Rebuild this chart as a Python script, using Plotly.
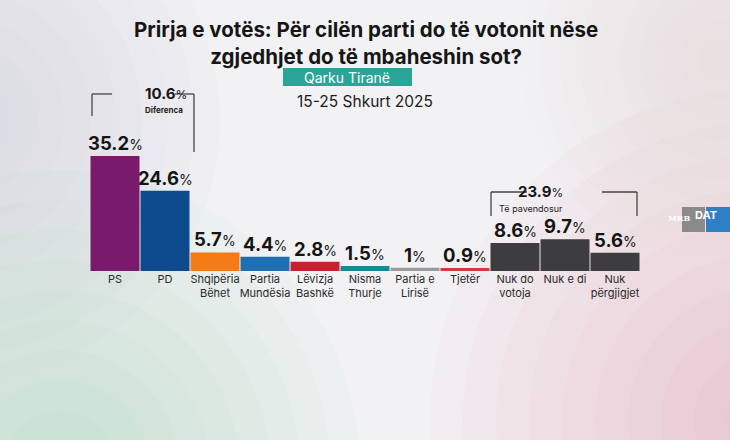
import plotly.graph_objects as go

categories = ["PS", "PD", "Shqipëria<br>Bëhet", "Partia<br>Mundësia", "Lëvizja<br>Bashkë",
              "Nisma<br>Thurje", "Partia e<br>Lirisë", "Tjetër", "Nuk do<br>votoja", "Nuk e di",
              "Nuk<br>përgjigjet"]
values = [35.2, 24.6, 5.7, 4.4, 2.8, 1.5, 1.0, 0.9, 8.6, 9.7, 5.6]
value_labels = ["35.2", "24.6", "5.7", "4.4", "2.8", "1.5", "1", "0.9", "8.6", "9.7", "5.6"]
colors = ["#7a1a6c", "#0e4a8e", "#f47b16", "#1f6eb1", "#c9202f", "#158a95",
          "#9a9a9a", "#d8383d", "#3d3d3f", "#3d3d3f", "#3d3d3f"]
diff_value = "10.6"
undecided_value = "23.9"

W, H = 730, 440
L, R, T, B = 90, 90, 124, 169
PW, PH = W - L - R, H - T - B

def px(x):
    return (x - L) / PW

def py(y):
    return (H - B - y) / PH

FONT = "Inter"
fig = go.Figure()
fig.add_trace(go.Bar(x=list(range(len(categories))), y=values, marker=dict(color=colors, line=dict(width=0)),
                     hoverinfo="skip"))

ann = []
for i, (v, lab) in enumerate(zip(values, value_labels)):
    ann.append(dict(x=i, y=v, xref="x", yref="y", yanchor="bottom", yshift=0, showarrow=False,
                    text=f"<b>{lab}</b><span style='font-size:14px'>%</span>",
                    font=dict(family=FONT, size=18.5, color="#151515")))

def note(x, y, text, size, color="#161616", yanchor="middle", family=FONT):
    ann.append(dict(x=px(x), y=py(y), xref="paper", yref="paper", showarrow=False, yanchor=yanchor,
                    text=text, font=dict(family=family, size=size, color=color)))

note(366, 43, "<b>Prirja e votës: Për cilën parti do të votonit nëse<br>zgjedhjet do të mbaheshin sot?</b>", 20.5)
note(347, 77, "Qarku Tiranë", 14, "white")
note(365, 101, "15-25 Shkurt 2025", 15.5, "#1c1c1c")
note(143, 104.5, f"<b>{diff_value}</b><span style='font-size:12px'>%</span>", 15, yanchor="bottom")
note(143, 102.5, "<b>Diferenca</b>", 8, "#222", yanchor="top")
note(565, 203, f"<b>{undecided_value}</b><span style='font-size:12px'>%</span>", 15, yanchor="bottom")
note(565, 200.5, "Të pavendosur", 9, "#222", yanchor="top")
note(693, 218, "<b>MRB</b>", 8, "white", family="DejaVu Serif")
note(719, 215, "<b>DAT</b>", 11, "white")

shapes = []
def glow(cx, cy, r, rgb, a, n=10):
    for k in range(n):
        rr = r * (1 - k / n)
        shapes.append(dict(type="circle", xref="paper", yref="paper",
                           x0=px(cx - rr), x1=px(cx + rr), y0=py(cy + rr), y1=py(cy - rr),
                           fillcolor=f"rgba({rgb},{a})", line=dict(width=0), layer="below"))

glow(-40, 120, 260, "170,190,215", 0.04)
glow(60, 470, 300, "140,200,150", 0.04)
glow(760, 420, 330, "235,140,150", 0.04)
glow(720, 60, 200, "230,200,210", 0.035)

shapes.append(dict(type="rect", xref="paper", yref="paper", x0=px(283), x1=px(412), y0=py(86), y1=py(68),
                   fillcolor="#2aa597", line=dict(width=0)))
lc = dict(color="#444", width=1.3)
for (x0, y0, x1, y1) in [(92, 94, 92, 116), (92, 94, 112, 94), (175, 94, 194, 94), (194, 94, 194, 152),
                         (491, 192, 491, 216), (491, 192, 527, 192), (602, 192, 637, 192), (637, 192, 637, 216)]:
    shapes.append(dict(type="line", xref="paper", yref="paper", x0=px(x0), x1=px(x1), y0=py(y0), y1=py(y1), line=lc))
shapes.append(dict(type="rect", xref="paper", yref="paper", x0=px(682), x1=px(705), y0=py(232), y1=py(207),
                   fillcolor="#8a8a8a", line=dict(width=0)))
shapes.append(dict(type="rect", xref="paper", yref="paper", x0=px(706), x1=px(740), y0=py(232), y1=py(207),
                   fillcolor="#2f7fc6", line=dict(width=0)))

fig.update_layout(
    width=W, height=H, margin=dict(l=L, r=R, t=T, b=B),
    paper_bgcolor="#f2f2f4", plot_bgcolor="rgba(0,0,0,0)",
    showlegend=False, bargap=0.02,
    annotations=ann, shapes=shapes,
    xaxis=dict(tickmode="array", tickvals=list(range(len(categories))), ticktext=categories,
               range=[-0.5, len(categories) - 0.5], showgrid=False, zeroline=False, showline=False,
               ticks="", tickangle=0, tickfont=dict(family=FONT, size=11, color="#2a2a2a"), fixedrange=True),
    yaxis=dict(range=[0, 45], visible=False, fixedrange=True),
)

fig.write_html("out.html")
